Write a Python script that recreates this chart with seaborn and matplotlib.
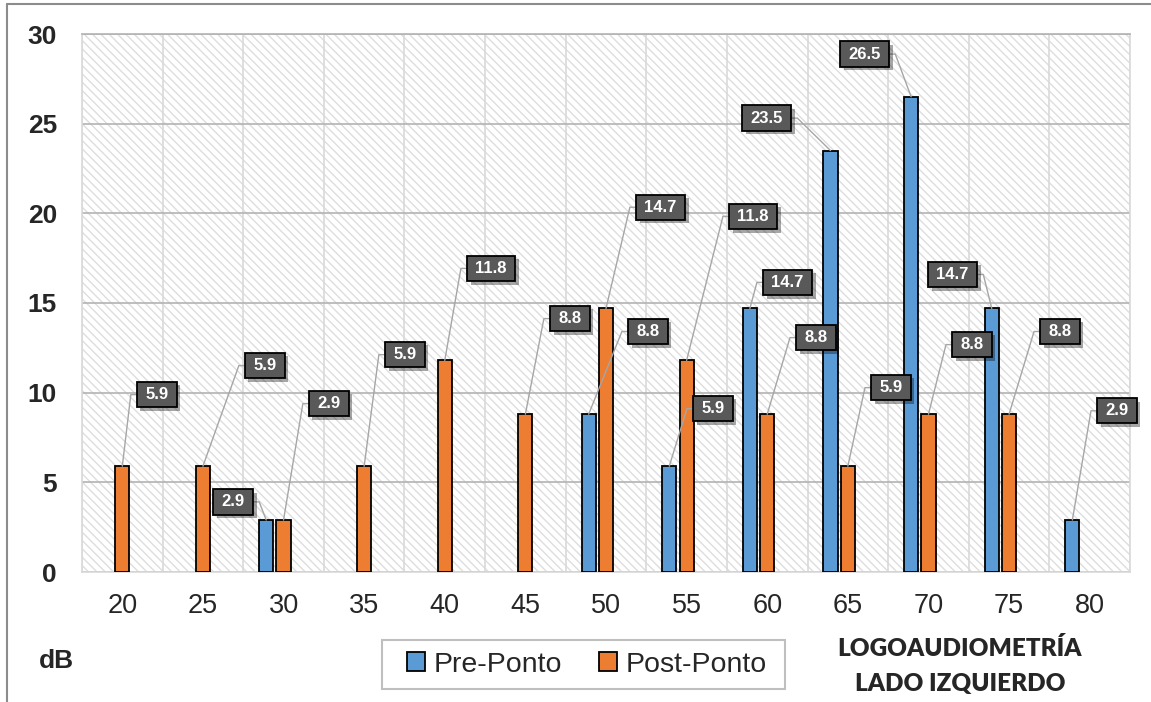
import numpy as np
import pandas as pd
import matplotlib
matplotlib.use("Agg")
import matplotlib.pyplot as plt
import seaborn as sns
from matplotlib import patheffects as pe
from matplotlib.patches import Patch, Rectangle
from matplotlib.lines import Line2D
from matplotlib.path import Path
from matplotlib.transforms import offset_copy

# ---- data -------------------------------------------------------------
categorias = ["20", "25", "30", "35", "40", "45", "50", "55", "60", "65", "70", "75", "80"]
pre_ponto = [0, 0, 2.9, 0, 0, 0, 8.8, 5.9, 14.7, 23.5, 26.5, 14.7, 2.9]
post_ponto = [5.9, 5.9, 2.9, 5.9, 11.8, 8.8, 14.7, 11.8, 8.8, 5.9, 8.8, 8.8, 0]
series = ["Pre-Ponto", "Post-Ponto"]

colores = {"Pre-Ponto": "#5B9BD5", "Post-Ponto": "#ED7D31", "_vacio": "#FFFFFF"}

# placement of each value box: (x in category units, y in value units, side of bar)
posiciones = {
    ("Post-Ponto", "20"): (0.182, 9.89, "R"),
    ("Post-Ponto", "25"): (1.522, 11.51, "R"),
    ("Pre-Ponto", "30"): (1.622, 3.91, "L"),
    ("Post-Ponto", "30"): (2.316, 9.39, "R"),
    ("Post-Ponto", "35"): (3.259, 12.12, "R"),
    ("Post-Ponto", "40"): (4.277, 16.93, "R"),
    ("Post-Ponto", "45"): (5.306, 14.13, "R"),
    ("Pre-Ponto", "50"): (6.274, 13.41, "R"),
    ("Post-Ponto", "50"): (6.373, 20.34, "R"),
    ("Pre-Ponto", "55"): (7.081, 9.11, "R"),
    ("Post-Ponto", "55"): (7.527, 19.83, "R"),
    ("Pre-Ponto", "60"): (7.949, 16.15, "R"),
    ("Post-Ponto", "60"): (8.359, 13.07, "R"),
    ("Pre-Ponto", "65"): (8.297, 25.31, "L"),
    ("Post-Ponto", "65"): (9.289, 10.28, "R"),
    ("Pre-Ponto", "70"): (9.512, 28.88, "L"),
    ("Post-Ponto", "70"): (10.294, 12.68, "R"),
    ("Pre-Ponto", "75"): (10.604, 16.59, "L"),
    ("Post-Ponto", "75"): (11.386, 13.41, "R"),
    ("Pre-Ponto", "80"): (12.093, 8.99, "R"),
}

# ---- long table for seaborn (empty categories are not drawn) -----------
filas = []
for cat, a, b in zip(categorias, pre_ponto, post_ponto):
    if a > 0:
        filas.append((cat, a, "Pre-Ponto"))
    if b > 0:
        filas.append((cat, b, "Post-Ponto"))
df = pd.DataFrame(filas, columns=["dB", "valor", "serie"])

# ---- style ---------------------------------------------------------------
sns.set_theme(style="white")
plt.rcParams["font.family"] = ["Liberation Sans", "DejaVu Sans"]
plt.rcParams["hatch.linewidth"] = 1.0

W, H = 1151, 702
fig = plt.figure(figsize=(W / 100, H / 100), dpi=100, facecolor="white")
ax = fig.add_axes([82 / W, 1 - 572 / H, (1130 - 82) / W, (572 - 34) / H])
ax.set_facecolor("white")

# hatched plot area
ax.add_patch(Rectangle((0, 0), 1, 1, transform=ax.transAxes, facecolor="white",
                       edgecolor="#dedede", hatch="\\\\\\\\", lw=0, zorder=0))

sns.barplot(data=df, x="dB", y="valor", hue="serie", order=categorias,
            hue_order=["Pre-Ponto", "Post-Ponto", "_vacio"], palette=colores,
            saturation=1, width=0.645, gap=0.18, dodge=True, errorbar=None,
            edgecolor="black", linewidth=1.3, legend=False, ax=ax, zorder=3)

ax.set_xlim(-0.5, len(categorias) - 0.5)
ax.set_ylim(0, 30)
ax.set_yticks(range(0, 31, 5))
ax.set_xticks(range(len(categorias)))
ax.set_xticklabels(categorias)
ax.set_xticks(np.arange(-0.5, len(categorias), 1), minor=True)
ax.set_xlabel("")
ax.set_ylabel("")

ax.set_axisbelow(True)
ax.grid(False)
ax.grid(which="minor", axis="x", color="#d9d9d9", lw=1.2)
ax.grid(which="major", axis="y", color="#b3b3b3", lw=1.2)
ax.tick_params(which="both", length=0)
ax.tick_params(axis="y", pad=18, labelsize=19)
ax.tick_params(axis="x", pad=15, labelsize=19.5)
for t in ax.get_yticklabels():
    t.set_fontweight("bold")
for s in ax.spines.values():
    s.set_color("#d9d9d9")
    s.set_linewidth(1.2)
ax.spines["top"].set_color("#b3b3b3")


# ---- value boxes with leader lines ------------------------------------
def caja(x0, y0, width, height, mutation_size):
    """Rectangle with wider horizontal than vertical padding."""
    px, py = 0.5 * mutation_size, 0.31 * mutation_size
    x0, y0 = x0 - px, y0 - py
    x1, y1 = x0 + width + 2 * px, y0 + height + 2 * py
    return Path([(x0, y0), (x1, y0), (x1, y1), (x0, y1), (x0, y0)], closed=True)


pad_pt = 6.0   # horizontal padding of the box, in points (0.5 * 12 pt)
arm_pt = 8.5
for cont in ax.containers:
    for bar in cont:
        h = bar.get_height()
        if not np.isfinite(h) or h <= 0:
            continue
        xc = bar.get_x() + bar.get_width() / 2
        idx = int(round(xc))
        serie = "Pre-Ponto" if xc - idx < -0.05 else "Post-Ponto"
        key = (serie, categorias[idx])
        if key not in posiciones:
            continue
        lx, ly, lado = posiciones[key]
        if lado == "R":
            ha, relpos, angA, dx = "left", (0, 0.5), 180, pad_pt
        else:
            ha, relpos, angA, dx = "right", (1, 0.5), 0, -pad_pt
        ann = ax.annotate(
            f"{h:.1f}", xy=(xc, h), xytext=(lx, ly),
            textcoords=offset_copy(ax.transData, fig=fig, x=dx, y=0, units="points"),
            ha=ha, va="center", fontsize=12, fontweight="bold", color="white",
            bbox=dict(boxstyle=caja, fc="#595959", ec="black", lw=1.3),
            arrowprops=dict(arrowstyle="-", color="#a6a6a6", lw=1.0,
                            shrinkA=0, shrinkB=0, relpos=relpos,
                            connectionstyle=f"arc,angleA={angA},angleB=0,armA={arm_pt + pad_pt},armB=0,rad=0"),
            zorder=6, annotation_clip=False)
        ann.get_bbox_patch().set_path_effects(
            [pe.SimplePatchShadow(offset=(2.5, -2.5), shadow_rgbFace="black", alpha=0.35),
             pe.Normal()])

# ---- legend ------------------------------------------------------------
handles = [Patch(facecolor=colores[s], edgecolor="black", lw=1.3, label=s) for s in series]
fig.legend(handles=handles, loc="center", bbox_to_anchor=(587 / W, 1 - 664.5 / H),
           ncol=2, frameon=False, fontsize=20.5, handlelength=0.62, handleheight=0.62,
           handletextpad=0.3, columnspacing=1.3)
fig.add_artist(Rectangle((382 / W, 1 - 689 / H), (785 - 382) / W, 49 / H,
                         transform=fig.transFigure, fill=False, ec="#bfbfbf", lw=1.5))

# ---- extra texts -------------------------------------------------------
fig.text(56 / W, 1 - 661 / H, "dB", ha="center", va="center", fontsize=19, fontweight="bold")
fig.text(960 / W, 1 - 648 / H, "LOGOAUDIOMETRÍA", ha="center", va="center",
         fontsize=17.5, fontweight="heavy", family=["Lato", "DejaVu Sans"])
fig.text(960 / W, 1 - 684 / H, "LADO IZQUIERDO", ha="center", va="center",
         fontsize=17.5, fontweight="heavy", family=["Lato", "DejaVu Sans"])

# outer frame (left and top edges)
fig.add_artist(Line2D([7 / W, 7 / W], [0, 1 - 4 / H], transform=fig.transFigure,
                      color="#8c8c8c", lw=1.5))
fig.add_artist(Line2D([7 / W, 1], [1 - 4 / H, 1 - 4 / H], transform=fig.transFigure,
                      color="#8c8c8c", lw=1.5))

fig.savefig("out.png", dpi=100, facecolor="white")
